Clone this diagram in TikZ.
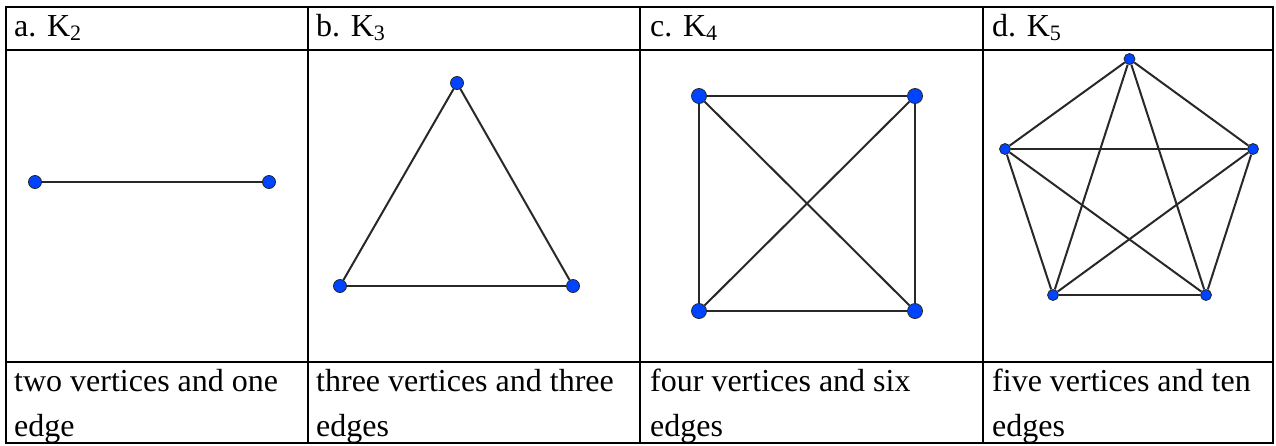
\documentclass[tikz,border=0pt]{standalone}
\usepackage{fontspec}
\setmainfont{Liberation Serif}
\newfontfamily\cellfont{Liberation Serif}
\usetikzlibrary{positioning, calc}

\definecolor{vblue}{RGB}{0,68,255}
\definecolor{edgegray}{RGB}{40,40,40}

\newcommand{\Kidx}[1]{K\raisebox{-0.3ex}{\fontsize{22}{22}\selectfont #1}}

\begin{document}
\begin{tikzpicture}[
    x=1pt, y=-1pt,
    grid/.style={line width=2.2pt, black},
    vert/.style={circle, draw=black!85, line width=0.8pt, fill=vblue, inner sep=0pt, minimum size=13pt},
    bigvert/.style={vert, minimum size=15pt},
    smallvert/.style={vert, minimum size=11pt},
    edge/.style={draw=edgegray, line width=2pt},
    head/.style={anchor=base west, inner sep=0pt, font=\cellfont\fontsize{32}{32}\selectfont},
    caption/.style={anchor=base west, inner sep=0pt, font=\cellfont\fontsize{32}{32}\selectfont}
]
\useasboundingbox (0,0) rectangle (1276,445);
\fill[white] (0,0) rectangle (1276,445);
% Table
\draw[grid] (6,7) rectangle (1273,443);
\draw[grid] (6,50) -- (1273,50);
\draw[grid] (6,362) -- (1273,362);
\foreach \cx in {308, 640, 983}
    \draw[grid] (\cx,7) -- (\cx,443);
% Headers
\node[head] (ha) at (14,36) {a. \Kidx{2}};
\node[head] (hb) at (316,36) {b. \Kidx{3}};
\node[head] (hc) at (650,36) {c. \Kidx{4}};
\node[head] (hd) at (992,36) {d. \Kidx{5}};
% K2
\node[vert] (a1) at (35,182) {};
\node[vert] (a2) at (269,182) {};
\draw[edge] (a1) -- (a2);
% K3
\node[vert] (b1) at (457,83) {};
\node[vert] (b2) at (340,286) {};
\node[vert] (b3) at (573,286) {};
\foreach \u/\v in {b1/b2, b2/b3, b3/b1}
    \draw[edge] (\u) -- (\v);
% K4
\node[bigvert] (c1) at (699,96) {};
\node[bigvert] (c2) at (915,96) {};
\node[bigvert] (c3) at (915,311) {};
\node[bigvert] (c4) at (699,311) {};
\foreach \u/\v in {c1/c2, c2/c3, c3/c4, c4/c1, c1/c3, c2/c4}
    \draw[edge] (\u) -- (\v);
% K5
\node[smallvert] (d1) at (1129.5,59) {};
\node[smallvert] (d2) at (1253,149) {};
\node[smallvert] (d3) at (1206,295) {};
\node[smallvert] (d4) at (1053,295) {};
\node[smallvert] (d5) at (1005,149) {};
\foreach \u/\v in {d1/d2, d1/d3, d1/d4, d1/d5, d2/d3, d2/d4, d2/d5, d3/d4, d3/d5, d4/d5}
    \draw[edge] (\u) -- (\v);
% Captions
\node[caption] (ta1) at (14,391) {two vertices and one};
\node[caption] (ta2) at (14,436) {edge};
\node[caption] (tb1) at (316,391) {three vertices and three};
\node[caption] (tb2) at (316,436) {edges};
\node[caption] (tc1) at (650,391) {four vertices and six};
\node[caption] (tc2) at (650,436) {edges};
\node[caption] (td1) at (992,391) {five vertices and ten};
\node[caption] (td2) at (992,436) {edges};
\end{tikzpicture}
\end{document}
